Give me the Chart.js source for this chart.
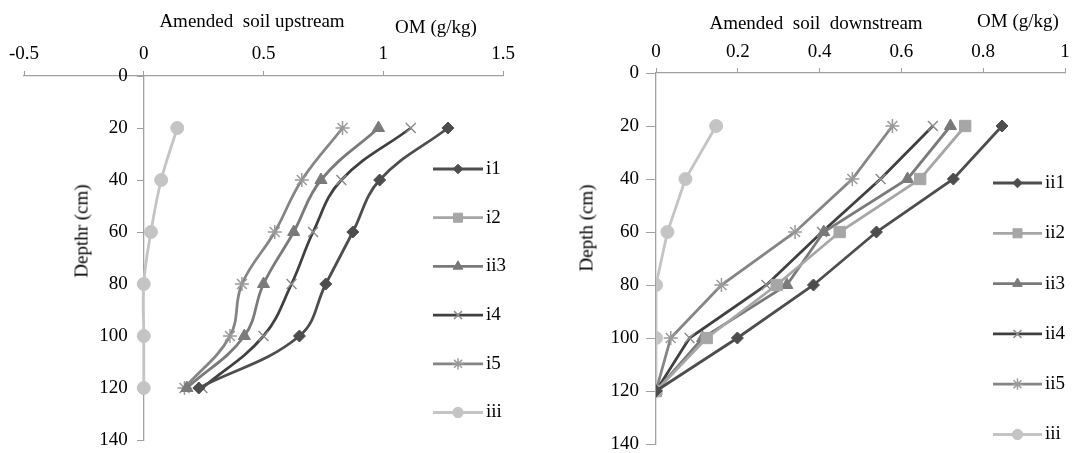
<!DOCTYPE html>
<html>
<head>
<meta charset="utf-8">
<script src="https://cdn.jsdelivr.net/npm/chart.js@4/dist/chart.umd.min.js"></script>
<style>
  body{margin:0;background:#fff;}
  .panel{position:absolute;top:0;width:537px;height:453px;}
  .txt{position:absolute;font-family:'Liberation Serif',serif;font-size:19px;color:#000;white-space:pre;line-height:1;transform:translate(-50%,-50%);}
  .rot{transform:translate(-50%,-50%) rotate(-90deg);}
</style>
</head>
<body>
<div class="panel" style="left:0"><canvas id="upChart"></canvas></div>
<div class="panel" style="left:537px"><canvas id="downChart"></canvas></div>

<div class="txt" style="left:252px;top:20px">Amended  soil upstream</div>
<div class="txt" style="left:436px;top:26px">OM (g/kg)</div>
<div class="txt rot" style="left:81px;top:231px">Depthr (cm)</div>

<div class="txt" style="left:816px;top:22px">Amended  soil  downstream</div>
<div class="txt" style="left:1018px;top:20px">OM (g/kg)</div>
<div class="txt rot" style="left:586px;top:228px">Depth (cm)</div>

<script>
// depth (cm) for every sample
const depths = [20, 40, 60, 80, 100, 120];

// upstream OM (g/kg)
const upLabels = ['i1', 'i2', 'ii3', 'i4', 'i5', 'iii'];
const up_i1  = [1.27, 0.985, 0.873, 0.76, 0.65, 0.23];
const up_i2  = [];
const up_ii3 = [0.98, 0.74, 0.626, 0.50, 0.42, 0.18];
const up_i4  = [1.115, 0.825, 0.707, 0.617, 0.50, 0.245];
const up_i5  = [0.83, 0.66, 0.547, 0.41, 0.36, 0.17];
const up_iii = [0.14, 0.073, 0.03, 0, 0, 0];

// downstream OM (g/kg)
const downLabels = ['ii1', 'ii2', 'ii3', 'ii4', 'ii5', 'iii'];
const down_ii1 = [0.846, 0.727, 0.539, 0.385, 0.199, 0];
const down_ii2 = [0.756, 0.646, 0.449, 0.295, 0.124, 0];
const down_ii3 = [0.72, 0.615, 0.41, 0.32, 0.114, 0];
const down_ii4 = [0.677, 0.549, 0.406, 0.27, 0.082, 0];
const down_ii5 = [0.578, 0.48, 0.34, 0.16, 0.036, 0];
const down_iii = [0.147, 0.072, 0.028, 0, 0, 0];

const upXTicks = [-0.5, 0, 0.5, 1, 1.5];
const downXTicks = [0, 0.2, 0.4, 0.6, 0.8, 1];
const depthTicks = [0, 20, 40, 60, 80, 100, 120, 140];

const FONT = "'Liberation Serif', 'Times New Roman', serif";
const AXIS = '#a0a0a0';

// one look per series slot (same order in both panels)
const STYLES = [
  {color:'#4d4d4d', mk:'#4d4d4d', style:'rectRot', r:6,   bw:1},
  {color:'#a6a6a6', mk:'#a6a6a6', style:'rect',    r:8,   bw:1},
  {color:'#7a7a7a', mk:'#7a7a7a', style:'triangle',r:7,   bw:1},
  {color:'#404040', mk:'#8c8c8c', style:'crossRot',r:7,   bw:1.5},
  {color:'#858585', mk:'#9a9a9a', style:'star',    r:7,   bw:1.5},
  {color:'#c4c4c4', mk:'#c4c4c4', style:'circle',  r:6.5, bw:1},
];

// y axis sits on x = 0; push its labels left of the tick marks
class SideLinearScale extends Chart.LinearScale {
  _computeLabelItems(chartArea){
    const items = super._computeLabelItems(chartArea);
    const shift = this.options.grid.tickLength + this.options.ticks.padding;
    items.forEach(it => { it.options.translation[0] -= shift; });
    return items;
  }
}
SideLinearScale.id = 'sideLinear';
SideLinearScale.defaults = Chart.LinearScale.defaults;
Chart.register(SideLinearScale);

function makeSets(labels, series, tension){
  return labels.map((lab, i) => {
    const s = STYLES[i];
    return {
      label: lab,
      data: series[i].map((v, k) => ({x: v, y: depths[k]})),
      borderColor: s.color, backgroundColor: s.mk,
      borderWidth: 2.8, tension,
      pointStyle: s.style, pointRadius: s.r, pointHoverRadius: s.r,
      pointBackgroundColor: s.mk, pointBorderColor: s.mk, pointBorderWidth: s.bw,
    };
  });
}

// Excel style legend: line with marker in the middle, label at right
const markerLegend = {
  id: 'markerLegend',
  afterDraw(chart, args, o){
    const ctx = chart.ctx;
    ctx.save();
    chart.data.datasets.forEach((ds, i) => {
      const y = o.y0 + i * o.step;
      ctx.strokeStyle = ds.borderColor;
      ctx.lineWidth = ds.borderWidth;
      ctx.beginPath(); ctx.moveTo(o.x, y); ctx.lineTo(o.x + o.len, y); ctx.stroke();
      ctx.fillStyle = ds.pointBackgroundColor;
      ctx.strokeStyle = ds.pointBorderColor;
      ctx.lineWidth = ds.pointBorderWidth;
      Chart.helpers.drawPoint(ctx, {pointStyle: ds.pointStyle, radius: ds.pointRadius * 0.8, rotation: 0, borderWidth: ds.pointBorderWidth}, o.x + o.len / 2, y);
      ctx.fillStyle = '#000';
      ctx.font = '19px ' + FONT;
      ctx.textBaseline = 'middle';
      ctx.textAlign = 'left';
      ctx.fillText(ds.label, o.x + o.len + 3, y);
    });
    ctx.restore();
  }
};

function makeChart(id, sets, xTicks, pad, xPad, yTick, legend){
  return new Chart(document.getElementById(id), {
    type: 'line',
    data: {datasets: sets},
    plugins: [markerLegend],
    options: {
      responsive: true, maintainAspectRatio: false, animation: false,
      layout: {padding: pad},
      plugins: {legend: {display: false}, tooltip: {enabled: false}, markerLegend: legend},
      scales: {
        x: {
          type: 'linear', position: 'top',
          min: xTicks[0], max: xTicks[xTicks.length - 1],
          afterBuildTicks: s => { s.ticks = xTicks.map(v => ({value: v})); },
          afterFit: s => { s.height = 30; s.paddingLeft = 0; s.paddingRight = 0; },
          grid: {drawOnChartArea: false, drawTicks: true, tickLength: 5, color: AXIS},
          border: {display: true, color: AXIS, width: 1.3},
          ticks: {color: '#000', font: {family: FONT, size: 19}, padding: xPad, maxRotation: 0, callback: v => String(v)}
        },
        y: {
          type: 'sideLinear', position: {x: 0}, reverse: true,
          min: 0, max: 140,
          afterBuildTicks: s => { s.ticks = depthTicks.map(v => ({value: v})); },
          afterFit: s => { s.paddingTop = 0; s.paddingBottom = 0; },
          grid: {drawOnChartArea: false, drawTicks: true, tickLength: yTick.len, color: AXIS},
          border: {display: true, color: AXIS, width: 1.3},
          ticks: {color: '#000', font: {family: FONT, size: 19}, padding: yTick.pad, callback: v => String(v)}
        }
      }
    }
  });
}

makeChart('upChart',
  makeSets(upLabels, [up_i1, up_i2, up_ii3, up_i4, up_i5, up_iii], 0.4),
  upXTicks, {left: 24, right: 34, top: 46, bottom: 13}, 6, {len: 6, pad: 10},
  {x: 433, len: 50, y0: 169, step: 48.7});

makeChart('downChart',
  makeSets(downLabels, [down_ii1, down_ii2, down_ii3, down_ii4, down_ii5, down_iii], 0),
  downXTicks, {left: 119, right: 4, top: 43, bottom: 8}, 5, {len: 9, pad: 8},
  {x: 456, len: 49, y0: 183, step: 50.3});
</script>
</body>
</html>
